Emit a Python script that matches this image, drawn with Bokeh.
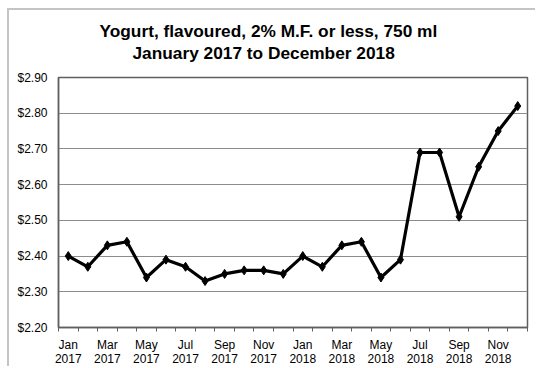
from bokeh.plotting import figure
from bokeh.models import FixedTicker, Title, NumeralTickFormatter
from bokeh.embed import file_html
from bokeh.resources import INLINE

months = ["Jan", "Feb", "Mar", "Apr", "May", "Jun", "Jul", "Aug", "Sep", "Oct", "Nov", "Dec"] * 2
years = ["2017"] * 12 + ["2018"] * 12
prices = [2.40, 2.37, 2.43, 2.44, 2.34, 2.39, 2.37, 2.33, 2.35, 2.36, 2.36, 2.35,
          2.40, 2.37, 2.43, 2.44, 2.34, 2.39, 2.69, 2.69, 2.51, 2.65, 2.75, 2.82]
y_ticks = [2.20, 2.30, 2.40, 2.50, 2.60, 2.70, 2.80, 2.90]
title_lines = ["Yogurt, flavoured,  2% M.F. or less,  750 ml", "January  2017  to December  2018"]

xs = list(range(len(prices)))
FONT = "Liberation Sans"

p = figure(width=528, height=358, output_backend="svg", toolbar_location=None,
           x_range=(-0.5, len(prices) - 0.5), y_range=(y_ticks[0], y_ticks[-1]),
           min_border_left=49, min_border_right=10, min_border_top=67, min_border_bottom=41)
p.styles = {"margin-left": "7px", "margin-top": "8px",
            "border-left": "2px solid #c4c4c4", "border-top": "2px solid #c4c4c4"}

# main title is outermost; p.above[0] sits closest to the frame
p.title.text = title_lines[0]
p.title.align = "left"
p.title.offset = 41
p.title.text_font = FONT
p.title.text_font_size = "17.3px"
p.title.text_font_style = "bold"
p.title.text_color = "black"
p.title.standoff = 0
spacer = Title(text=" ", text_font_size="1px", standoff=12)
p.add_layout(spacer, "above")
t2 = Title(text=title_lines[1], align="left", offset=74, text_font=FONT,
           text_font_size="17.3px", text_font_style="bold", text_color="black", standoff=0)
p.add_layout(t2, "above")

p.outline_line_color = "#606060"
p.outline_line_width = 1.5
p.xgrid.grid_line_color = None
p.ygrid.grid_line_color = "#8c8c8c"
p.ygrid.grid_line_width = 1

major = [i for i in xs if i % 2 == 0]
p.xaxis.ticker = FixedTicker(ticks=major, minor_ticks=[i - 0.5 for i in range(len(prices) + 1)])
p.xaxis.major_label_overrides = {i: f"{months[i]}\n{years[i]}" for i in major}
p.xaxis.major_tick_line_color = None
p.xaxis.major_tick_out = 0
p.xaxis.major_tick_in = 0
p.xaxis.minor_tick_out = 4
p.xaxis.minor_tick_in = 0
p.xaxis.minor_tick_line_color = "#606060"
p.xaxis.axis_line_color = "#606060"
p.xaxis.axis_line_width = 1.5
p.xaxis.major_label_standoff = 6
p.xaxis.major_label_text_font = FONT
p.xaxis.major_label_text_font_size = "12px"
p.xaxis.major_label_text_line_height = 1.0
p.xaxis.major_label_text_color = "black"

p.yaxis.ticker = FixedTicker(ticks=y_ticks)
p.yaxis.formatter = NumeralTickFormatter(format="$0.00")
p.yaxis.major_tick_line_color = None
p.yaxis.major_tick_out = 0
p.yaxis.major_tick_in = 0
p.yaxis.minor_tick_line_color = None
p.yaxis.axis_line_color = "#606060"
p.yaxis.axis_line_width = 1.5
p.yaxis.major_label_standoff = 11
p.yaxis.major_label_text_font = FONT
p.yaxis.major_label_text_font_size = "12px"
p.yaxis.major_label_text_color = "black"

p.line(xs, prices, line_color="black", line_width=3.2)
p.scatter(xs, prices, marker="diamond", size=9, color="black")

open("out.html", "w").write(file_html(p, INLINE))
